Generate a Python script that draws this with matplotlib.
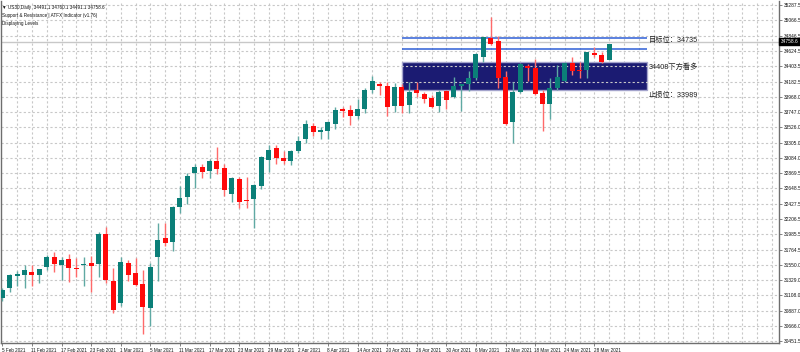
import numpy as np
import matplotlib
matplotlib.use("Agg")
import matplotlib.pyplot as plt
from matplotlib.patches import Rectangle

plt.rcParams['font.family'] = ['Liberation Sans', 'Noto Sans CJK SC', 'DejaVu Sans']

# daily OHLC, US30, 5 Feb 2021 -> 1 Jun 2021
opens = [31066, 31210, 31392, 31406, 31445, 31402, 31512, 31656, 31541, 31628,
         31507, 31546, 31579, 31560, 31992, 31320, 30994, 31579, 31426, 31272,
         30923, 31665, 31930, 31881, 32385, 32528, 32865, 32952, 32903, 33046,
         32937, 32567, 32783, 32481, 32500, 32687, 33061, 33225, 33081, 33046,
         33186, 33359, 33550, 33464, 33478, 33575, 33786, 33776, 33694, 33786,
         34064, 34150, 34121, 33834, 34103, 33848, 34064, 34002, 33944, 33834,
         34049, 33967, 34126, 34150, 34241, 34534, 34808, 34769, 34247, 33608,
         34039, 34414, 34376, 34016, 33858, 34088, 34198, 34457, 34352, 34352,
         34601, 34572, 34496]
highs = [31219, 31412, 31459, 31546, 31541, 31488, 31690, 31728, 31656, 31704,
         31651, 31656, 31675, 32025, 32097, 31507, 31665, 31618, 31651, 31474,
         31579, 32154, 32154, 32390, 32682, 32865, 32999, 32995, 33067, 33248,
         32999, 32816, 32816, 32808, 32707, 33118, 33272, 33272, 33186, 33200,
         33406, 33632, 33585, 33536, 33622, 33824, 33824, 33848, 33934, 34088,
         34270, 34183, 34179, 34172, 34150, 34183, 34179, 34039, 33992, 34064,
         34064, 34255, 34150, 34342, 34592, 34831, 35110, 34841, 34337, 34183,
         34448, 34438, 34506, 34064, 34232, 34424, 34471, 34543, 34462, 34615,
         34687, 34606, 34721]
lows = [31032, 31161, 31243, 31219, 31248, 31291, 31474, 31449, 31330, 31297,
        31377, 31248, 31161, 31377, 31291, 30851, 30956, 31315, 31240, 30553,
        30672, 31320, 31819, 31751, 32290, 32423, 32658, 32802, 32802, 32859,
        32539, 32452, 32370, 32370, 32082, 32635, 32888, 32999, 32999, 32985,
        33162, 33297, 33406, 33359, 33359, 33503, 33680, 33560, 33642, 33737,
        34016, 33992, 33690, 33752, 33729, 33729, 33959, 33872, 33810, 33752,
        33790, 33944, 33766, 34049, 34208, 34471, 34715, 34088, 33560, 33306,
        34025, 34198, 33990, 33478, 33647, 34064, 34175, 34280, 34232, 34232,
        34534, 34457, 34496]
closes = [31186, 31402, 31416, 31474, 31406, 31488, 31665, 31556, 31618, 31507,
          31484, 31560, 31531, 31992, 31330, 30898, 31589, 31402, 31253, 30946,
          31521, 31905, 31867, 32385, 32514, 32826, 32952, 32888, 33042, 32927,
          32625, 32793, 32456, 32462, 32697, 33104, 33200, 33081, 33046, 33186,
          33334, 33570, 33459, 33488, 33599, 33776, 33766, 33694, 33790, 34064,
          34198, 34126, 33815, 34111, 33838, 34039, 34025, 33930, 33824, 34039,
          33920, 34121, 34150, 34241, 34578, 34822, 34726, 34241, 33575, 34039,
          34438, 34376, 34002, 33862, 34097, 34255, 34448, 34342, 34342, 34606,
          34568, 34471, 34721]

date_labels = ['5 Feb 2021', '11 Feb 2021', '17 Feb 2021', '23 Feb 2021', '1 Mar 2021',
               '5 Mar 2021', '11 Mar 2021', '17 Mar 2021', '23 Mar 2021', '29 Mar 2021',
               '2 Apr 2021', '8 Apr 2021', '14 Apr 2021', '20 Apr 2021', '26 Apr 2021',
               '30 Apr 2021', '6 May 2021', '12 May 2021', '18 May 2021', '24 May 2021',
               '28 May 2021']
price_ticks = [35287.5, 35066.5, 34846.5, 34624.5, 34403.5, 34182.5, 33968.0, 33747.0,
               33526.0, 33305.0, 33084.0, 32869.5, 32648.5, 32427.5, 32206.5, 31985.5,
               31764.5, 31550.0, 31329.0, 31108.0, 30887.0, 30666.0, 30451.5]

bid = 34758.6
target_line = 34808
second_line = 34650
zone_top = 34471
zone_bottom = 34064

o = np.array(opens); h = np.array(highs); l = np.array(lows); c = np.array(closes)
x = np.arange(len(o))
up = c >= o
teal = '#0b7f78'
red = '#ff0a0a'
cols = np.where(up, teal, red)
wick_cols = np.where(up, '#5fa9a3', '#ff6a6a')

fig = plt.figure(figsize=(8, 3.52), dpi=100)
ax = fig.add_axes([1/800, 9/352, 778/800, 342/352])
ax.set_xlim(-0.18, 104.95)
ax.set_ylim(30423, 35345)

# grid (vertical lines sit under the zone, horizontal ones over it)
for p in price_ticks:
    ax.axhline(p, color='#c8c8c8', lw=0.8, ls=(0, (2, 2)), zorder=1)
for gx in np.arange(2, 105, 2):
    ax.axvline(gx, color='#c8c8c8', lw=0.8, ls=(0, (2, 2)), zorder=0.3)

# support/resistance zone
ax.add_patch(Rectangle((53.97, zone_bottom), 33.1, zone_top - zone_bottom,
                       facecolor='#1b1b72', edgecolor='#a4a4cc', lw=1.0, zorder=0.5))
ax.hlines([target_line, second_line], 53.97, 87.07, color='#2f5fd6', lw=1.1, zorder=2)
ax.axhline(bid, color='#c8c8c8', lw=1.0, zorder=1.5)

# candles
ax.vlines(x, l, h, color=wick_cols, lw=1.0, zorder=3)
body = np.maximum(np.abs(c - o), 14)
ax.bar(x, body, bottom=np.minimum(o, c), width=0.68, color=cols, zorder=4)

ax.text(87.35, 34784, '目标位：34735', fontsize=5.2, color='#222222', va='center', ha='left', zorder=5)
ax.text(87.35, 34395, '34408下方看多', fontsize=5.2, color='#222222', va='center', ha='left', zorder=5)
ax.text(87.35, 33992, '止损位：33989', fontsize=5.2, color='#222222', va='center', ha='left', zorder=5)

# axes frame and ticks
for s in ['left', 'bottom', 'right']:
    ax.spines[s].set_color('#6e6e6e')
    ax.spines[s].set_linewidth(1.0)
ax.spines['top'].set_visible(False)
ax.yaxis.tick_right()
ax.set_yticks(price_ticks)
ax.set_yticklabels(['%.1f' % p for p in price_ticks])
ax.tick_params(axis='y', labelsize=3.5, length=2, width=0.6, color='#6e6e6e', pad=1.5, labelcolor='#111111')
ax.set_xticks(np.arange(0, 84, 4))
ax.set_xticklabels([])
ax.tick_params(axis='x', length=2.5, width=0.6, color='#6e6e6e')
for k, lab in enumerate(date_labels):
    ax.text(k * 4 - 0.1, -0.015, lab, transform=ax.get_xaxis_transform(), fontsize=3.3,
            ha='left', va='top', color='#111111')

# bid price box
ax.text(1.002, bid, '%.1f' % bid, transform=ax.get_yaxis_transform(), fontsize=3.5, color='white',
        va='center', ha='left', bbox=dict(boxstyle='square,pad=0.25', fc='black', ec='black'))

# header text
fig.text(0.003, 0.985, '▼ US30,Daily  34491.1 34760.1 34491.1 34758.6', fontsize=3.3, va='top', ha='left', color='#111111')
fig.text(0.003, 0.962, 'Support & Resistance | ATFX Indicator (v1.76)', fontsize=3.3, va='top', ha='left', color='#111111')
fig.text(0.003, 0.940, 'Displaying Levels', fontsize=3.3, va='top', ha='left', color='#111111')

fig.savefig('out.png', dpi=100, facecolor='white')
